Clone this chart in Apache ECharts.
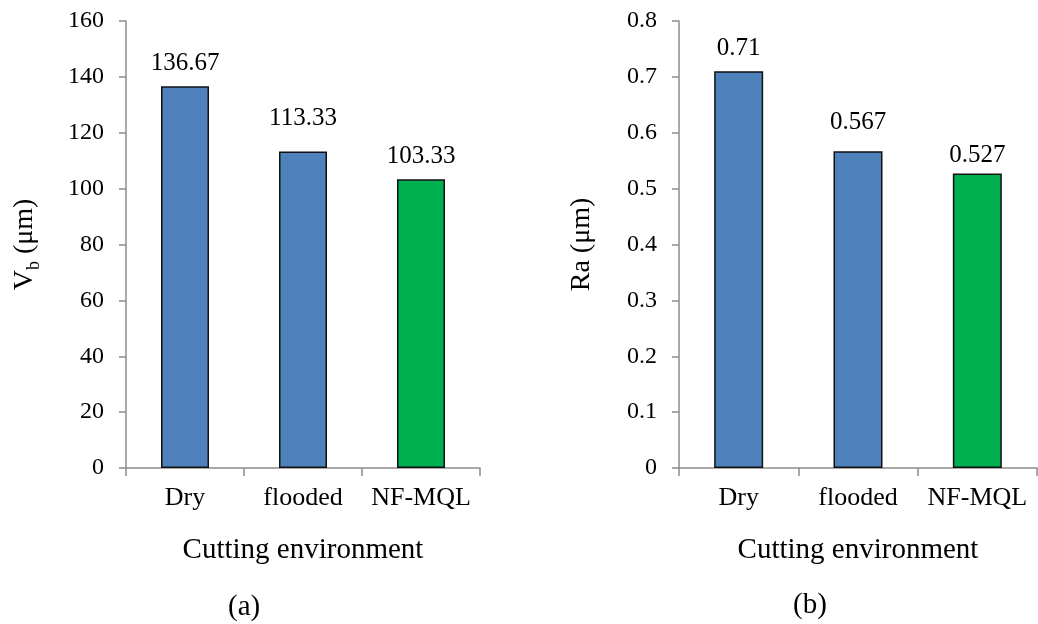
<!DOCTYPE html>
<html>
<head>
<meta charset="utf-8">
<script src="https://cdn.jsdelivr.net/npm/echarts@6/dist/echarts.min.js"></script>
<style>
  html, body { margin: 0; padding: 0; background: #fff; }
  #chart { width: 1038px; height: 624px; }
</style>
</head>
<body>
<div id="chart"></div>
<script>
// categories and values
var categories = ["Dry", "flooded", "NF-MQL"];
var vbValues = [136.67, 113.33, 103.33];
var raValues = [0.71, 0.567, 0.527];
var vbTicks = { min: 0, max: 160, interval: 20 };
var raTicks = { min: 0, max: 0.8, interval: 0.1 };

var font = "Liberation Serif";
var blue = "#4F81BD";
var green = "#00B050";
var axisGrey = "#8c8c8c";

// last bar is green, others blue
function barData(values, labelShift) {
  return values.map(function (v, i) {
    return {
      value: v,
      itemStyle: { color: i === values.length - 1 ? green : blue },
      label: { offset: [0, labelShift[i]] }
    };
  });
}

function xAxisFor(gridIndex) {
  return {
    type: "category",
    gridIndex: gridIndex,
    data: categories,
    name: "Cutting environment",
    nameLocation: "middle",
    nameGap: 68,
    nameTextStyle: { fontFamily: font, fontSize: 29, color: "#000" },
    axisLine: { lineStyle: { color: axisGrey, width: 1.5 } },
    axisTick: { show: true, length: 8, lineStyle: { color: axisGrey, width: 1.5 } },
    axisLabel: { interval: 0, fontFamily: font, fontSize: 26, color: "#000", margin: 17 }
  };
}

function yAxisFor(gridIndex, ticks, name, rich) {
  return {
    type: "value",
    gridIndex: gridIndex,
    min: ticks.min,
    max: ticks.max,
    interval: ticks.interval,
    name: name,
    nameLocation: "middle",
    nameGap: 83,
    nameRotate: 90,
    nameTextStyle: { fontFamily: font, fontSize: 28, color: "#000", rich: rich },
    splitLine: { show: false },
    axisLine: { show: true, lineStyle: { color: axisGrey, width: 1.5 } },
    axisTick: { show: true, inside: false, length: 7, lineStyle: { color: axisGrey, width: 1.5 } },
    axisLabel: { fontFamily: font, fontSize: 24, color: "#000", margin: 22 }
  };
}

var labelStyle = {
  show: true,
  position: "top",
  distance: 10,
  fontFamily: font,
  fontSize: 25,
  color: "#000"
};

var chart = echarts.init(document.getElementById("chart"));
chart.setOption({
  animation: false,
  grid: [
    { left: 126, right: 558, top: 21, bottom: 156 },
    { left: 679, right: 1, top: 21, bottom: 156 }
  ],
  xAxis: [xAxisFor(0), xAxisFor(1)],
  yAxis: [
    yAxisFor(0, vbTicks, "{a|V}{s|b}{a| (μm)}", {
      a: { fontFamily: font, fontSize: 28, color: "#000" },
      s: { fontFamily: font, fontSize: 18, color: "#000", padding: [18, 0, 0, 0] }
    }),
    yAxisFor(1, raTicks, "Ra (μm)", {})
  ],
  series: [
    {
      type: "bar",
      xAxisIndex: 0,
      yAxisIndex: 0,
      barWidth: 48,
      data: barData(vbValues, [0, -10, 0]),
      itemStyle: { borderColor: "#111", borderWidth: 1.5 },
      label: Object.assign({}, labelStyle, {
        formatter: function (p) { return p.value.toFixed(2); }
      })
    },
    {
      type: "bar",
      xAxisIndex: 1,
      yAxisIndex: 1,
      barWidth: 49,
      data: barData(raValues, [0, -6, 4]),
      itemStyle: { borderColor: "#111", borderWidth: 1.5 },
      label: Object.assign({}, labelStyle, {
        formatter: function (p) { return String(p.value); }
      })
    }
  ],
  graphic: [
    { type: "text", left: 228, top: 593, style: { text: "(a)", font: "29px 'Liberation Serif'", fill: "#000" } },
    { type: "text", left: 793, top: 591, style: { text: "(b)", font: "29px 'Liberation Serif'", fill: "#000" } }
  ]
});
</script>
</body>
</html>
